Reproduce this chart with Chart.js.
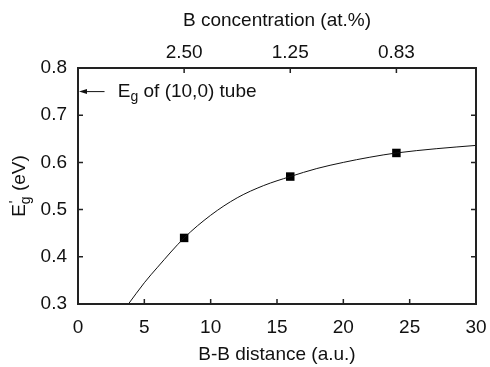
<!doctype html>
<html lang="en">
<head>
    <meta charset="utf-8" />
    <title>Eg' vs B-B distance</title>
    <script src="https://cdn.jsdelivr.net/npm/chart.js@4.4.1/dist/chart.umd.min.js"></script>
    <style>
        html, body { margin: 0; padding: 0; background: #fff; }
        #wrap { width: 490px; height: 367px; }
    </style>
</head>
<body>
    <div id="wrap">
        <canvas id="myChart" width="490" height="367"></canvas>
    </div>

    <script>
        // calculated points (B-B distance in a.u., Eg' in eV)
        const distances = [8, 16, 24];
        const gaps = [0.44, 0.57, 0.62];

        // fitted curve
        const curveX = [3.8, 5, 6, 8, 10, 12, 14, 16, 18, 20, 22, 24, 27, 30];
        const curveY = [0.30, 0.345, 0.378, 0.44, 0.488, 0.525, 0.551, 0.570, 0.587, 0.600, 0.611, 0.620, 0.629, 0.636];

        // top axis: B concentration at the same distances
        const topTicks = [8, 16, 24];
        const topLabels = ['2.50', '1.25', '0.83'];

        // Eg of (10,0) tube
        const tubeGap = 0.75;

        const FONT = '"Liberation Sans", Arial, Helvetica, sans-serif';
        const INK = '#111';

        const framePlugin = {
            id: 'frame',
            afterDraw(chart) {
                const ctx = chart.ctx;
                const a = chart.chartArea;
                const sx = chart.scales.x;
                const sy = chart.scales.y;
                ctx.save();

                // inward ticks
                ctx.strokeStyle = '#222';
                ctx.lineWidth = 1.5;
                ctx.beginPath();
                for (let v = 5; v < 30; v += 5) {
                    const px = sx.getPixelForValue(v);
                    ctx.moveTo(px, a.bottom);
                    ctx.lineTo(px, a.bottom - 5);
                }
                topTicks.forEach(v => {
                    const px = sx.getPixelForValue(v);
                    ctx.moveTo(px, a.top);
                    ctx.lineTo(px, a.top + 5);
                });
                [0.4, 0.5, 0.6, 0.7].forEach(v => {
                    const py = sy.getPixelForValue(v);
                    ctx.moveTo(a.left, py);
                    ctx.lineTo(a.left + 5, py);
                    ctx.moveTo(a.right, py);
                    ctx.lineTo(a.right - 5, py);
                });
                ctx.stroke();

                // frame
                ctx.lineWidth = 2;
                ctx.strokeRect(a.left, a.top, a.right - a.left, a.bottom - a.top);

                // arrow + label for the (10,0) tube gap
                const ay = sy.getPixelForValue(tubeGap);
                const x0 = sx.getPixelForValue(0) + 1;
                const x1 = sx.getPixelForValue(2.0);
                ctx.lineWidth = 1;
                ctx.strokeStyle = INK;
                ctx.fillStyle = INK;
                ctx.beginPath();
                ctx.moveTo(x0 + 6, ay);
                ctx.lineTo(x1, ay);
                ctx.stroke();
                ctx.beginPath();
                ctx.moveTo(x0, ay);
                ctx.lineTo(x0 + 8, ay - 2.5);
                ctx.lineTo(x0 + 8, ay + 2.5);
                ctx.closePath();
                ctx.fill();

                let tx = sx.getPixelForValue(3.0);
                ctx.textBaseline = 'middle';
                ctx.textAlign = 'left';
                ctx.font = '19px ' + FONT;
                ctx.fillText('E', tx, ay);
                tx += ctx.measureText('E').width;
                ctx.font = '14px ' + FONT;
                ctx.fillText('g', tx, ay + 6);
                tx += ctx.measureText('g').width;
                ctx.font = '19px ' + FONT;
                ctx.fillText(' of (10,0) tube', tx, ay);

                // y axis title: E_g' (eV)
                ctx.font = '19px ' + FONT;
                const wE = ctx.measureText('E').width;
                const wRest = ctx.measureText(' (eV)').width;
                ctx.font = '14px ' + FONT;
                const wG = ctx.measureText('g').width;
                const total = wE + wG + wRest;
                ctx.translate(20, (a.top + a.bottom) / 2);
                ctx.rotate(-Math.PI / 2);
                let p = -total / 2;
                ctx.font = '19px ' + FONT;
                ctx.fillText('E', p, 0);
                p += wE;
                ctx.font = '14px ' + FONT;
                ctx.fillText('g', p, 6);
                ctx.fillText('\'', p + 1, -5);
                p += wG;
                ctx.font = '19px ' + FONT;
                ctx.fillText(' (eV)', p, 0);

                ctx.restore();
            }
        };

        const noSidePad = s => { s.paddingLeft = 0; s.paddingRight = 0; };

        const ctx = document.getElementById('myChart').getContext('2d');
        const myChart = new Chart(ctx, {
            type: 'scatter',
            data: {
                datasets: [
                    {
                        label: 'fit',
                        data: curveX.map((x, i) => ({ x: x, y: curveY[i] })),
                        showLine: true,
                        borderColor: INK,
                        borderWidth: 1,
                        pointRadius: 0,
                        cubicInterpolationMode: 'monotone',
                        xAxisID: 'x',
                        yAxisID: 'y'
                    },
                    {
                        label: 'calc',
                        data: distances.map((x, i) => ({ x: x, y: gaps[i] })),
                        showLine: false,
                        pointStyle: 'rect',
                        pointRadius: 6,
                        backgroundColor: '#000',
                        borderColor: '#000',
                        borderWidth: 0,
                        xAxisID: 'x',
                        yAxisID: 'y'
                    }
                ]
            },
            options: {
                responsive: false,
                animation: false,
                layout: { padding: { right: 14 } },
                plugins: {
                    legend: { display: false },
                    tooltip: { enabled: false }
                },
                scales: {
                    x: {
                        type: 'linear',
                        position: 'bottom',
                        min: 0,
                        max: 30,
                        grid: { display: false, drawTicks: false },
                        border: { display: false },
                        ticks: {
                            stepSize: 5,
                            padding: 12,
                            color: INK,
                            maxRotation: 0,
                            font: { family: FONT, size: 19 }
                        },
                        title: {
                            display: true,
                            text: 'B-B distance (a.u.)',
                            color: INK,
                            padding: { top: 0, bottom: 1 },
                            font: { family: FONT, size: 19 }
                        },
                        afterFit: s => { s.height = 63; noSidePad(s); }
                    },
                    x2: {
                        type: 'linear',
                        position: 'top',
                        min: 0,
                        max: 30,
                        grid: { display: false, drawTicks: false },
                        border: { display: false },
                        afterBuildTicks: s => { s.ticks = topTicks.map(v => ({ value: v })); },
                        ticks: {
                            padding: 4,
                            color: INK,
                            maxRotation: 0,
                            autoSkip: false,
                            font: { family: FONT, size: 19 },
                            callback: (v) => topLabels[topTicks.indexOf(v)]
                        },
                        title: {
                            display: true,
                            text: 'B concentration (at.%)',
                            color: INK,
                            padding: { top: 9, bottom: 0 },
                            font: { family: FONT, size: 19 }
                        },
                        afterFit: s => { s.height = 68; noSidePad(s); }
                    },
                    y: {
                        type: 'linear',
                        min: 0.3,
                        max: 0.8,
                        grid: { display: false, drawTicks: false },
                        border: { display: false },
                        ticks: {
                            stepSize: 0.1,
                            padding: 11,
                            color: INK,
                            font: { family: FONT, size: 19 },
                            callback: v => v.toFixed(1)
                        },
                        afterFit: s => { s.width = 78; }
                    }
                }
            },
            plugins: [framePlugin]
        });
    </script>
</body>
</html>
